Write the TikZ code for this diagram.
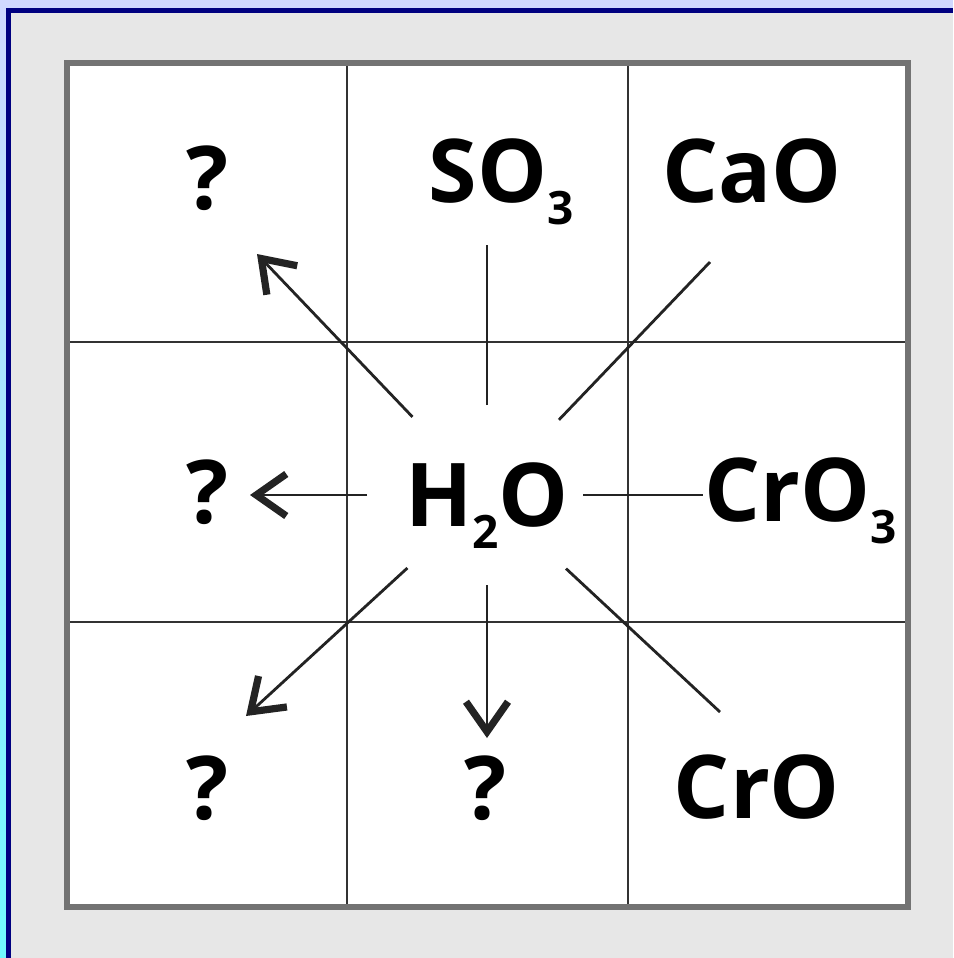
\documentclass[tikz,border=0pt]{standalone}
\usepackage{fontspec}
\setmainfont{Open Sans}
\definecolor{navy}{RGB}{0,0,128}
\definecolor{lavender}{RGB}{208,216,255}
\definecolor{aqua}{RGB}{112,250,255}
\definecolor{panel}{RGB}{231,231,231}
\definecolor{ink}{RGB}{35,35,35}
\definecolor{rule}{RGB}{50,50,50}
\definecolor{frame}{RGB}{115,115,115}
\usetikzlibrary{arrows.meta}
\newcommand{\chemsub}[1]{\raisebox{-11pt}{\fontsize{23}{23}\selectfont #1}}

\begin{document}
\begin{tikzpicture}[x=0.5pt,y=-0.5pt,
    lbl/.style={font=\fontsize{44}{44}\selectfont\bfseries, inner sep=0pt, text height=31pt, text depth=0pt},
    link/.style={ink, line width=1.4pt},
    arr/.style={link, -{Straight Barb[length=15pt,width=21pt,line width=3.6pt]}}]
  \useasboundingbox (0,0) rectangle (953,958);
  % window frame
  \fill[lavender] (0,0) rectangle (953,8);
  \shade[top color=lavender, bottom color=aqua] (0,0) rectangle (6,958);
  \fill[navy] (6,8) rectangle (953,13);
  \fill[navy] (6,8) rectangle (11,958);
  \fill[panel] (11,13) rectangle (953,958);
  % grid
  \fill[white] (67,63) rectangle (908,907);
  \draw[rule, line width=1.4pt] (347,63) -- (347,907);
  \draw[rule, line width=1.4pt] (628,63) -- (628,907);
  \draw[rule, line width=1.4pt] (67,342) -- (908,342);
  \draw[rule, line width=1.4pt] (67,622) -- (908,622);
  \draw[frame, line width=3pt] (67,63) rectangle (908,907);

  % labels
  \node[lbl] (qtl) at (207,178) {?};
  \node[lbl] (so3) at (501,171) {SO\chemsub{3}};
  \node[lbl] (cao) at (752,171) {CaO};
  \node[lbl] (qml) at (207,492) {?};
  \node[lbl] (water) at (487,495) {H\chemsub{2}O};
  \node[lbl] (cro3) at (801,490) {CrO\chemsub{3}};
  \node[lbl] (qbl) at (207,788) {?};
  \node[lbl] (qbm) at (485,788) {?};
  \node[lbl] (cro) at (757,787) {CrO};

  % free ends of the links
  \coordinate (tipul) at (257,254);
  \coordinate (endup) at (487,245);
  \coordinate (endur) at (710,262);
  \coordinate (tipl) at (250,495);
  \coordinate (endr) at (703,495);
  \coordinate (tipll) at (246,716);
  \coordinate (tipd) at (487,738);
  \coordinate (endlr) at (720,712);

  \draw[arr, shorten <=54pt] (water.center) -- (tipul);
  \draw[link, shorten <=45pt] (water.center) -- (endup);
  \draw[link, shorten <=52pt] (water.center) -- (endur);
  \draw[arr, shorten <=60pt] (water.center) -- (tipl);
  \draw[link, shorten <=48pt] (water.center) -- (endr);
  \draw[arr, shorten <=54pt] (water.center) -- (tipll);
  \draw[arr, shorten <=45pt] (water.center) -- (tipd);
  \draw[link, shorten <=54pt] (water.center) -- (endlr);
\end{tikzpicture}
\end{document}
